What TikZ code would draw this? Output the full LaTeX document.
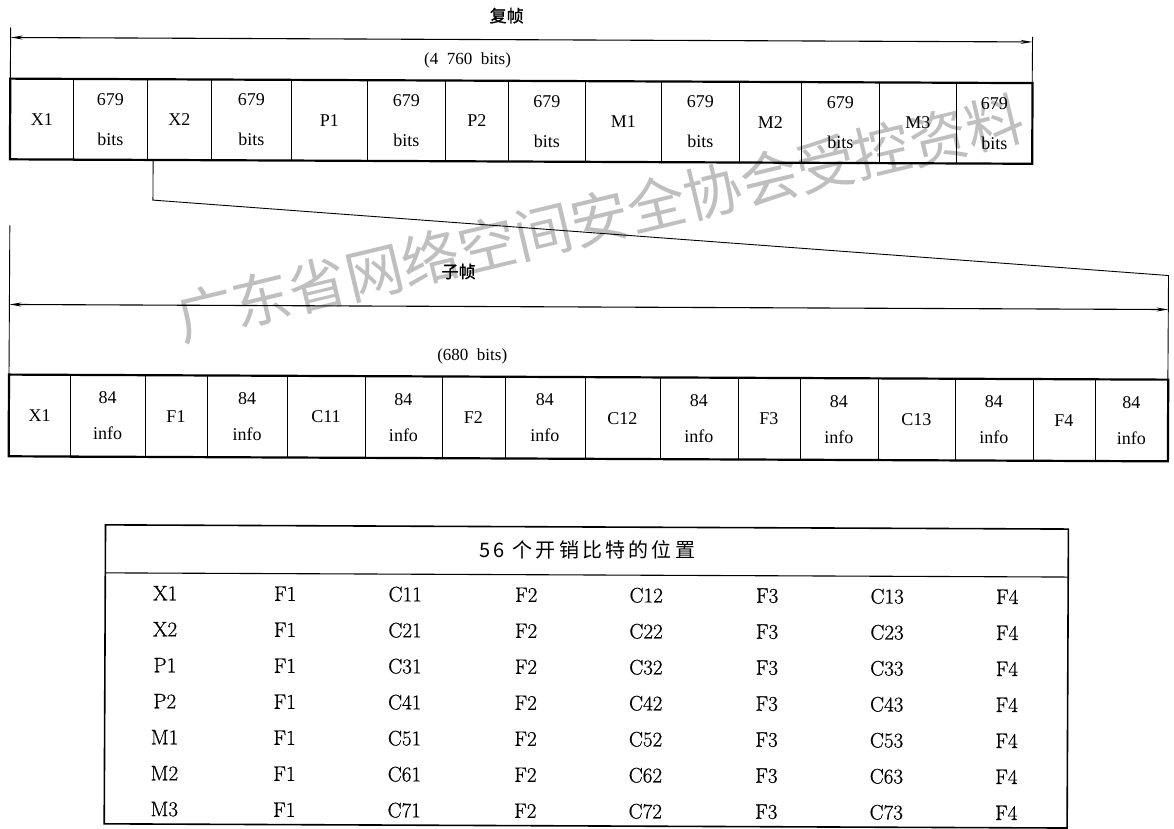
\documentclass[tikz,border=0pt]{standalone}
\usepackage{fontspec}
\newfontfamily\tnr{Liberation Serif}
\newfontfamily\cjk{Noto Sans CJK SC}
\newfontfamily\cjkb[FakeBold=1.2]{Noto Sans CJK SC}
\newfontfamily\cjkwide[LetterSpace=16]{Noto Sans CJK SC}
\newfontfamily\lmr[FakeBold=0.7]{Latin Modern Roman}
\usetikzlibrary{arrows.meta}
\tikzset{
  cellbox/.style={draw, line width=0.8pt, inner sep=0pt, outer sep=0pt, align=center},
  topcell/.style={cellbox, minimum height=81pt, font=\tnr\fontsize{18}{40}\selectfont},
  botcell/.style={cellbox, minimum height=82pt, font=\tnr\fontsize{18}{36}\selectfont},
  frameline/.style={line width=2.2pt},
  thinline/.style={line width=0.9pt},
  dimarrow/.style={line width=1.1pt, <->, >={Stealth[length=12pt,width=4pt]}},
  lbl/.style={inner sep=0pt, font=\tnr\fontsize{17}{20}\selectfont},
  cjklbl/.style={inner sep=0pt, font=\cjkb\fontsize{17}{20}\selectfont},
  tabtxt/.style={inner sep=0pt, font=\lmr\fontsize{21}{24}\selectfont},
  watermark/.style={inner sep=0pt, text=gray!50, font=\cjk\fontsize{58}{60}\selectfont, rotate=13.5}
}
\begin{document}
\begin{tikzpicture}[x=1pt,y=-1pt]
\useasboundingbox (0,0) rectangle (1174,828);
% watermark
\node[watermark] (wm) at (600,218) {广东省网络空间安全协会受控资料};

\begin{scope}[rotate around={-0.25:(587,414)}]
% ---------- top frame (复帧) ----------
\foreach \a/\b/\txt [count=\i] in {9/72/X1, 72/146/679\\bits, 146/210/X2, 210/290/679\\bits,
  290/366/P1, 366/444/679\\bits, 444/507/P2, 507/584/679\\bits, 584/660/M1, 660/738/679\\bits,
  738/800/M2, 800/878/679\\bits, 878/955/M3, 955/1031/679\\bits}
  \node[topcell, minimum width={(\b-\a)*1pt}] (t\i) at ({(\a+\b)/2},121.5) {\txt};
\draw[frameline] (t1.north west) rectangle (t14.south east);

\coordinate (tla) at (9,30);
\coordinate (tra) at (1031,35);
\coordinate (tlarr) at (9,40);
\coordinate (trarr) at (1031,40);
\draw[thinline] (tla) -- (t1.north west);
\draw[thinline] (tra) -- (t14.north east);
\draw[dimarrow] (tlarr) -- (trarr);
\node[cjklbl] (fz) at (505,16) {复帧};
\node[lbl] (fzbits) at (466,61) {(4\enspace 760\enspace bits)};

% ---------- bottom frame (子帧) ----------
\foreach \a/\b/\txt [count=\i] in {9/70/X1, 70/145/84\\info, 145/207/F1, 207/287/84\\info,
  287/365/C11, 365/442/84\\info, 442/505/F2, 505/585/84\\info, 585/660/C12, 660/738/84\\info,
  738/800/F3, 800/878/84\\info, 878/955/C13, 955/1033/84\\info, 1033/1095/F4, 1095/1168/84\\info}
  \node[botcell, minimum width={(\b-\a)*1pt}] (b\i) at ({(\a+\b)/2},418) {\txt};
\draw[frameline] (b1.north west) rectangle (b16.south east);

\coordinate (bla) at (9,228);
\coordinate (blarr) at (9,307);
\coordinate (brarr) at (1168,307);
\draw[thinline] (bla) -- (b1.north west);
\draw[dimarrow] (blarr) -- (brarr);
\node[cjklbl] (zz) at (458,272) {子帧};
\node[lbl] (zzbits) at (472,357) {(680\enspace bits)};

% ---------- expansion connector ----------
\coordinate (c0) at (152,162);
\coordinate (c1) at (152,202);
\coordinate (c2) at (1168,273);
\draw[thinline] (c0) -- (c1) -- (c2) -- (b16.north east);

% ---------- table ----------
\coordinate (tabnw) at (106,527);
\coordinate (tabse) at (1069,826);
\draw[line width=1.6pt] (tabnw) rectangle (tabse);
\coordinate (hsl) at (106,575);
\coordinate (hsr) at (1069,575);
\draw[line width=1.1pt] (hsl) -- (hsr);
\node[inner sep=0pt, font=\cjkwide\fontsize{20}{24}\selectfont] (head) at (588,550) {56 个开销比特的位置};

\foreach \lab [count=\i] in {X1,X2,P1,P2,M1,M2,M3} {
  \pgfmathsetmacro\yy{595+36*(\i-1)}
  \node[tabtxt] (r\i-1) at (166,\yy) {\lab};
  \node[tabtxt] (r\i-2) at (286,\yy) {F1};
  \node[tabtxt] (r\i-3) at (406,\yy) {C\i1};
  \node[tabtxt] (r\i-4) at (527,\yy) {F2};
  \node[tabtxt] (r\i-5) at (647,\yy) {C\i2};
  \node[tabtxt] (r\i-6) at (768,\yy) {F3};
  \node[tabtxt] (r\i-7) at (888,\yy) {C\i3};
  \node[tabtxt] (r\i-8) at (1008,\yy) {F4};
}
\end{scope}
\end{tikzpicture}
\end{document}
